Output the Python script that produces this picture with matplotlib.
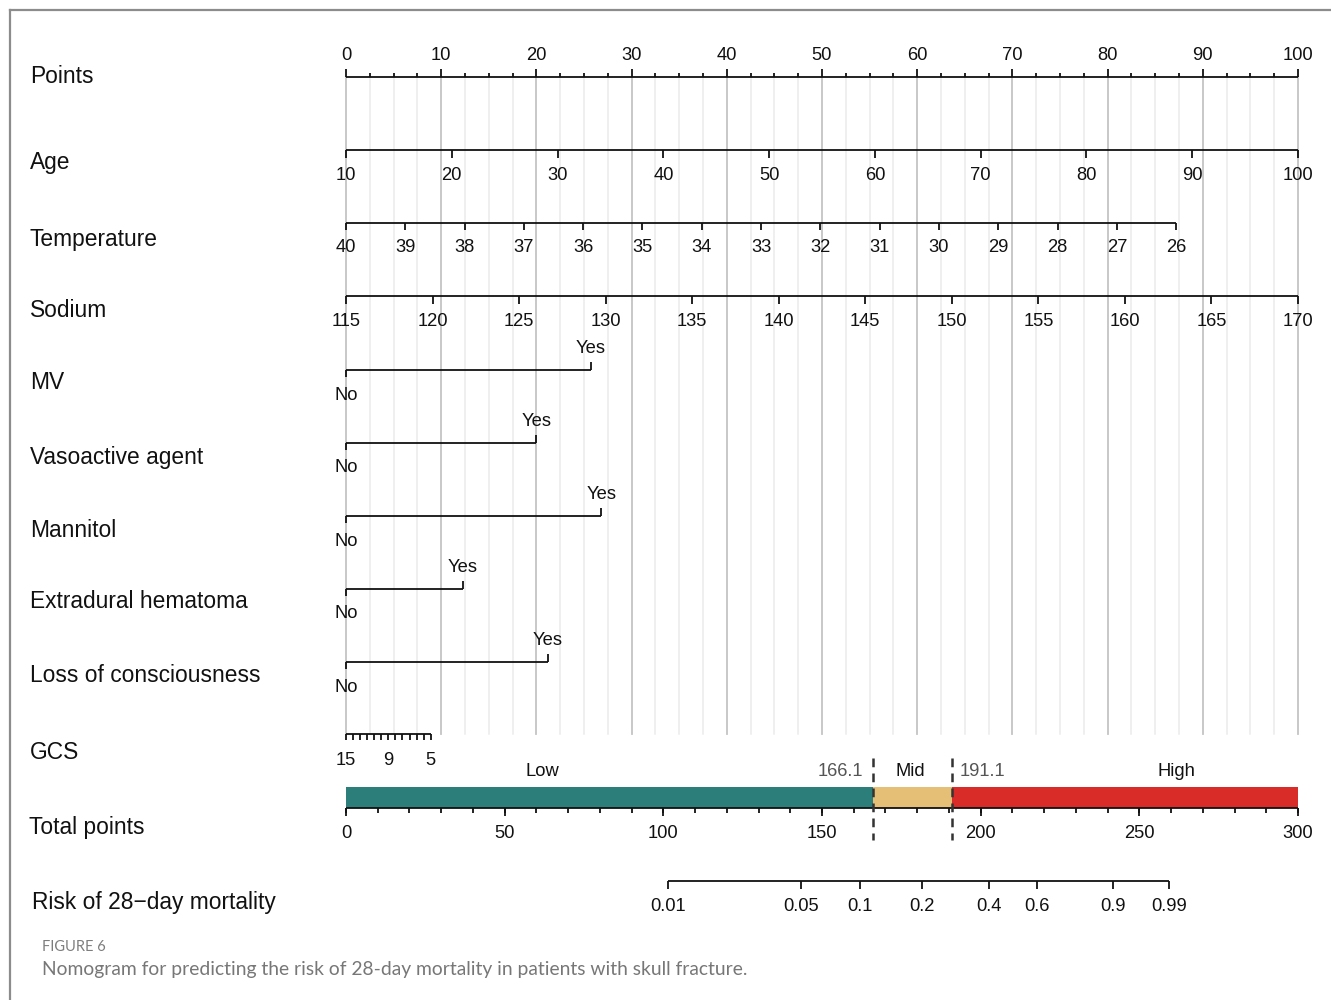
import numpy as np
import matplotlib
matplotlib.use("Agg")
import matplotlib.pyplot as plt
from matplotlib.patches import Rectangle
from matplotlib import font_manager as fm

# ---------------- data ----------------
row_labels = ["Points", "Age", "Temperature", "Sodium", "MV", "Vasoactive agent",
              "Mannitol", "Extradural hematoma", "Loss of consciousness", "GCS",
              "Total points", "Risk of 28\u2212day mortality"]

points_ticks = list(range(0, 101, 10))

age_ticks = list(range(10, 101, 10))
age_range = (10, 100)          # age -> points 0..100
age_pts_range = (0, 100)

temp_ticks = list(range(40, 25, -1))
temp_range = (40, 26)
temp_pts_range = (0, 87.2)

sodium_ticks = list(range(115, 171, 5))
sodium_range = (115, 170)
sodium_pts_range = (0, 100)

binary_vars = ["MV", "Vasoactive agent", "Mannitol", "Extradural hematoma", "Loss of consciousness"]
binary_yes_points = [25.7, 20.0, 26.8, 12.3, 21.2]

gcs_labels = ["15", "9", "5"]
gcs_label_points = [0, 4.45, 8.9]
gcs_n_ticks = 13

total_ticks = list(range(0, 301, 50))
total_minor = list(range(0, 301, 10))
cutoffs = [166.1, 191.1]
groups = ["Low", "Mid", "High"]
group_colors = ["#2b7e7a", "#e6bf76", "#d92c29"]
group_label_pos = [62, 177.8, 261.6]

risk_ticks = [0.01, 0.05, 0.1, 0.2, 0.4, 0.6, 0.9, 0.99]
risk_tick_labels = ["0.01", "0.05", "0.1", "0.2", "0.4", "0.6", "0.9", "0.99"]
# total points = a + b * log(-log(1 - risk))
risk_a, risk_b = 220.06, 25.8

# ---------------- fonts ----------------
def find_font(stem, fallback_family):
    for f in fm.findSystemFonts():
        if f.split("/")[-1].lower().startswith(stem.lower()):
            return fm.FontProperties(fname=f)
    return fm.FontProperties(family=fallback_family)

FP = find_font("LiberationSans-Regular", "DejaVu Sans")
FP_CAP = find_font("Lato-Regular", "DejaVu Sans")

# ---------------- layout ----------------
W, H = 1331, 1000
X0, X100 = 346, 1298
PPP = (X100 - X0) / 100.0

fig = plt.figure(figsize=(W / 100, H / 100), dpi=100)
ax = fig.add_axes([0, 0, 1, 1])
ax.set_xlim(-X0 / PPP, (W - X0) / PPP)
ax.set_ylim(H, 0)
ax.axis("off")

LBL = 16.4
TCK = 13.2
LW = 1.3
K = "#111111"


def px(xpix):
    return (xpix - X0) / PPP


def lin(v, r, pr):
    return pr[0] + (np.asarray(v, float) - r[0]) * (pr[1] - pr[0]) / (r[1] - r[0])


def hline(x0, x1, y, **kw):
    ax.plot([x0, x1], [y, y], color=K, lw=LW, solid_capstyle="butt", zorder=3, **kw)


def ticks(xs, y, length):
    for x in np.atleast_1d(xs):
        ax.plot([x, x], [y, y + length], color=K, lw=LW, solid_capstyle="butt", zorder=3)


def tlabel(x, y, s, ha="center", color=K, size=TCK):
    ax.text(x, y, s, ha=ha, va="baseline", fontproperties=FP, fontsize=size,
            color=color, zorder=4)


# row labels
label_base = [83, 169, 246, 317, 389, 464, 537, 608, 682, 759, 834, 909]
label_x = [30, 30, 30, 30, 30, 30, 30, 30, 30, 30, 29, 32]
for s, xb, yb in zip(row_labels, label_x, label_base):
    ax.text(px(xb), yb, s, ha="left", va="baseline", fontproperties=FP, fontsize=LBL, color=K)

# grid lines
grid_top, grid_bot = 76.5, 734
for v in np.arange(0, 100.01, 2.5):
    major = abs(v % 10) < 1e-9
    ax.plot([v, v], [grid_top, grid_bot], color="#c4c4c4" if major else "#ebebeb",
            lw=1.3 if major else 1.1, zorder=1)

# Points axis
yP = 76.5
hline(0, 100, yP)
ticks(points_ticks, yP, -7.5)
ticks([v for v in np.arange(0, 100.01, 2.5) if v % 10], yP, -4)
for v in points_ticks:
    tlabel(v, 60, str(v))

# Age
yA = 150
hline(0, 100, yA)
ax_pts = lin(age_ticks, age_range, age_pts_range)
ticks(ax_pts, yA, 7.5)
for v, p in zip(age_ticks, ax_pts):
    tlabel(p, 180, str(v))

# Temperature
yT = 222.5
t_pts = lin(temp_ticks, temp_range, temp_pts_range)
hline(t_pts.min(), t_pts.max(), yT)
ticks(t_pts, yT, 7.5)
for v, p in zip(temp_ticks, t_pts):
    tlabel(p, 252.5, str(v))

# Sodium
yS = 296
s_pts = lin(sodium_ticks, sodium_range, sodium_pts_range)
hline(s_pts.min(), s_pts.max(), yS)
ticks(s_pts, yS, 7.5)
for v, p in zip(sodium_ticks, s_pts):
    tlabel(p, 326, str(v))

# binary rows
y_bin = [369.5, 442.5, 515.5, 588.5, 661.5]
for yb, yes in zip(y_bin, binary_yes_points):
    hline(0, yes, yb)
    ticks([yes], yb, -7.5)
    ticks([0], yb, 7)
    tlabel(yes, yb - 16.5, "Yes")
    tlabel(0, yb + 30, "No")

# GCS
yG = 734
g_pts = np.linspace(gcs_label_points[0], gcs_label_points[-1], gcs_n_ticks)
hline(g_pts.min(), g_pts.max(), yG)
ticks(g_pts, yG, 6)
for s, p in zip(gcs_labels, gcs_label_points):
    tlabel(p, 765, s)

# Total points with risk groups
yTP = 808
tp = lambda v: np.asarray(v, float) / 3.0
edges = [0] + cutoffs + [300]
for i in range(3):
    ax.add_patch(Rectangle((tp(edges[i]), 786.5), tp(edges[i + 1]) - tp(edges[i]), 21.5,
                           facecolor=group_colors[i], edgecolor="none", zorder=2))
hline(0, 100, yTP)
ticks(tp(total_minor), yTP, 4.5)
ticks(tp(total_ticks), yTP, 8)
for v in total_ticks:
    tlabel(tp(v), 838.5, str(v))
for c in cutoffs:
    ax.plot([tp(c), tp(c)], [758, 840], color="#333333", lw=1.8,
            dashes=(3.5, 2.5), zorder=5)
tlabel(tp(cutoffs[0]) - 1.0, 776, f"{cutoffs[0]}", ha="right", color="#555555")
tlabel(tp(cutoffs[1]) + 0.8, 776, f"{cutoffs[1]}", ha="left", color="#555555")
for g, p in zip(groups, group_label_pos):
    tlabel(tp(p), 776.5, g)

# Risk axis
yR = 881
r = np.array(risk_ticks)
r_pts = tp(risk_a + risk_b * np.log(-np.log(1 - r)))
hline(r_pts.min(), r_pts.max(), yR)
ticks(r_pts, yR, 7.5)
for s, p in zip(risk_tick_labels, r_pts):
    tlabel(p, 911, s)

# frame (top and left only visible)
ax.plot([px(10), px(W + 5)], [10, 10], color="#8c8c8c", lw=1.6, zorder=6, clip_on=False)
ax.plot([px(10), px(10)], [10, H + 5], color="#8c8c8c", lw=1.6, zorder=6, clip_on=False)

# caption
ax.text(px(42), 951, "FIGURE 6", ha="left", va="baseline", fontproperties=FP_CAP,
        fontsize=10.5, color="#7d7d7d")
ax.text(px(42), 975.5, "Nomogram for predicting the risk of 28-day mortality in patients with skull fracture.",
        ha="left", va="baseline", fontproperties=FP_CAP, fontsize=13.9, color="#777777")

fig.savefig("out.png", dpi=100)
